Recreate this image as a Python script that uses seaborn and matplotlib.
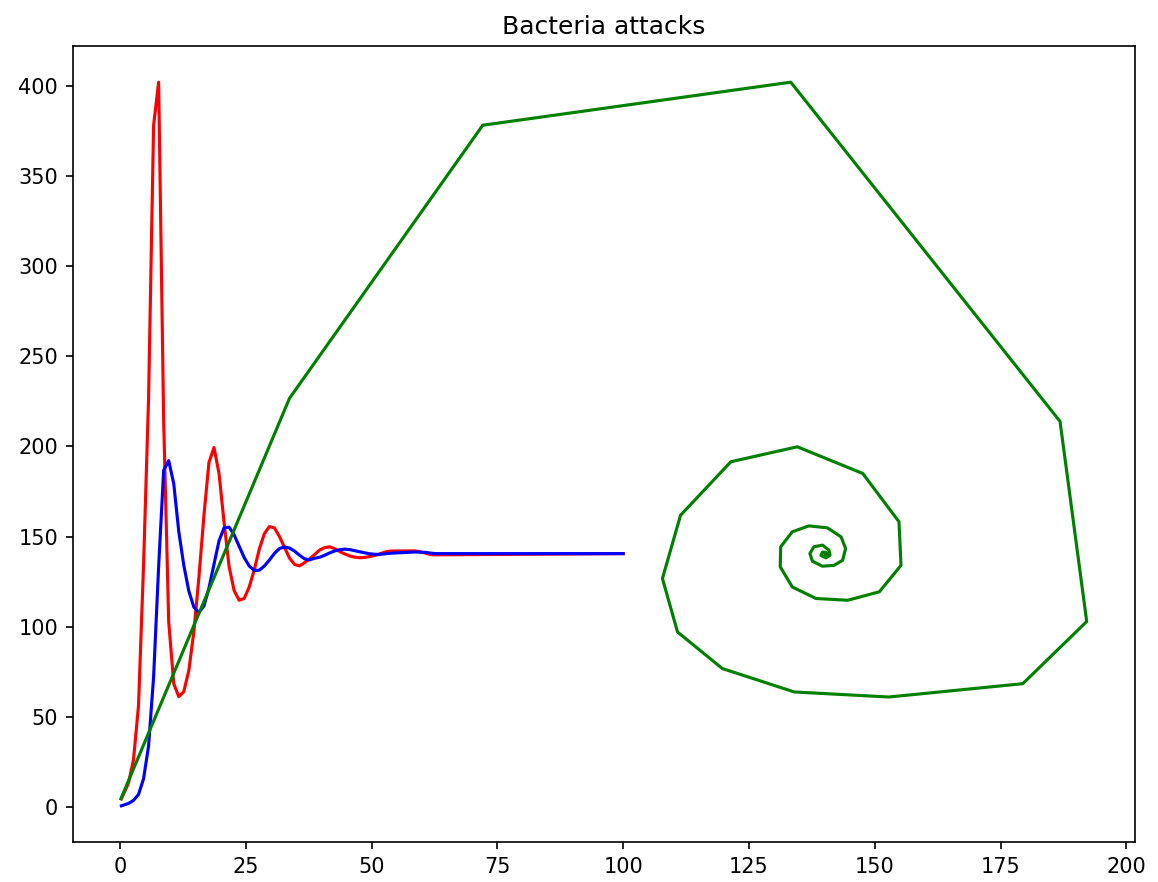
import matplotlib
matplotlib.use("Agg")
import matplotlib.pyplot as plt
import seaborn as sns

# time samples for the two populations
time = [0.3, 1.7, 2.7, 3.7, 4.7, 5.7, 6.7, 7.7, 8.7, 9.7,
        10.7, 11.7, 12.7, 13.7, 14.7, 15.7, 16.7, 17.7, 18.7, 19.7,
        20.7, 21.7, 22.7, 23.7, 24.7, 25.7, 26.7, 27.7, 28.7, 29.7,
        30.7, 31.7, 32.7, 33.7, 34.7, 35.7, 36.7, 37.7, 38.7, 39.7,
        40.7, 41.7, 42.7, 43.7, 44.7, 45.7, 46.7, 47.7, 48.7, 49.7,
        50.7, 51.7, 52.7, 53.7, 55.7, 58.7, 60.7, 61.7, 62.7, 67.7,
        100.0]

bacteria = [4.4, 13, 26, 56, 134, 226.7, 378.3, 402.2, 213.9, 102.8,
            68.3, 61.1, 63.9, 75.6, 97.2, 127.2, 161.7, 191.1, 199.4, 185,
            157.8, 133.3, 120, 114.6, 115.6, 122, 131.5, 143, 151.5, 155.5,
            154.8, 150, 144, 138, 134.5, 133.7, 135.5, 137.5, 140, 142.5,
            143.8, 144.3, 143.2, 141.6, 140.3, 139.2, 138.5, 138.2, 138.4, 138.9,
            139.5, 140.4, 141.4, 141.9, 142, 142, 140.8, 140.0, 139.8, 139.9,
            140.5]

cells = [0.5, 1.8, 3.5, 6.8, 15.5, 33.7, 72.1, 133.3, 186.8, 192.1,
         179.4, 152.8, 134.0, 119.7, 110.8, 107.8, 111.4, 121.4, 134.6, 147.6,
         154.8, 155.2, 150.9, 144.6, 138.3, 133.6, 131.2, 131.3, 133.6, 136.9,
         140.6, 143.3, 144.2, 143.6, 141.9, 139.6, 137.6, 137.1, 137.9, 138.5,
         139.6, 140.9, 142.0, 142.7, 143.0, 142.7, 142.1, 141.5, 140.9, 140.4,
         140.1, 140.1, 140.4, 140.7, 141.0, 141.4, 141.2, 140.8, 140.5, 140.5,
         140.5]

# phase portrait (cells vs bacteria)
phase_x = [0.2, 33.7, 72.1, 133.3, 186.8, 192.1, 179.4, 152.8, 134.0, 119.7,
           110.8, 107.8, 111.4, 121.4, 134.6, 147.6, 154.8, 155.2, 150.9, 144.6,
           138.3, 133.6, 131.2, 131.3, 133.6, 136.9, 140.6, 143.3, 144.2, 143.6,
           141.9, 139.6, 137.6, 137.1, 137.9, 139.6, 140.9, 141.1, 140.3, 139.3,
           139.6, 140.3, 140.5, 140.1, 140.3]
phase_y = [4.4, 226.7, 378.3, 402.2, 213.9, 102.8, 68.3, 60.9, 63.7, 76.7,
           97.0, 126.7, 161.8, 191.5, 199.8, 185.0, 158.2, 134.0, 119.3, 114.6,
           115.6, 122.0, 133.2, 144.3, 152.6, 155.9, 154.8, 149.8, 143.3, 136.8,
           134.0, 133.5, 136.3, 140.6, 144.3, 145.2, 142.4, 139.6, 138.2, 139.5,
           141.3, 141.2, 140.2, 139.8, 140.5]

fig = plt.figure(figsize=(7.72, 5.88), dpi=150)
ax = fig.add_axes([72.6 / 1158, 40 / 882, 1062.4 / 1158, 796 / 882])

sns.lineplot(x=time, y=bacteria, ax=ax, color="red", sort=False, estimator=None, linewidth=1.5)
sns.lineplot(x=time, y=cells, ax=ax, color="blue", sort=False, estimator=None, linewidth=1.5)
sns.lineplot(x=phase_x, y=phase_y, ax=ax, color="green", sort=False, estimator=None, linewidth=1.5)

ax.set_title("Bacteria attacks")
ax.set_xticks([0, 25, 50, 75, 100, 125, 150, 175, 200])
ax.set_yticks([0, 50, 100, 150, 200, 250, 300, 350, 400])

fig.savefig("out.png", dpi=150)
plt.close(fig)
